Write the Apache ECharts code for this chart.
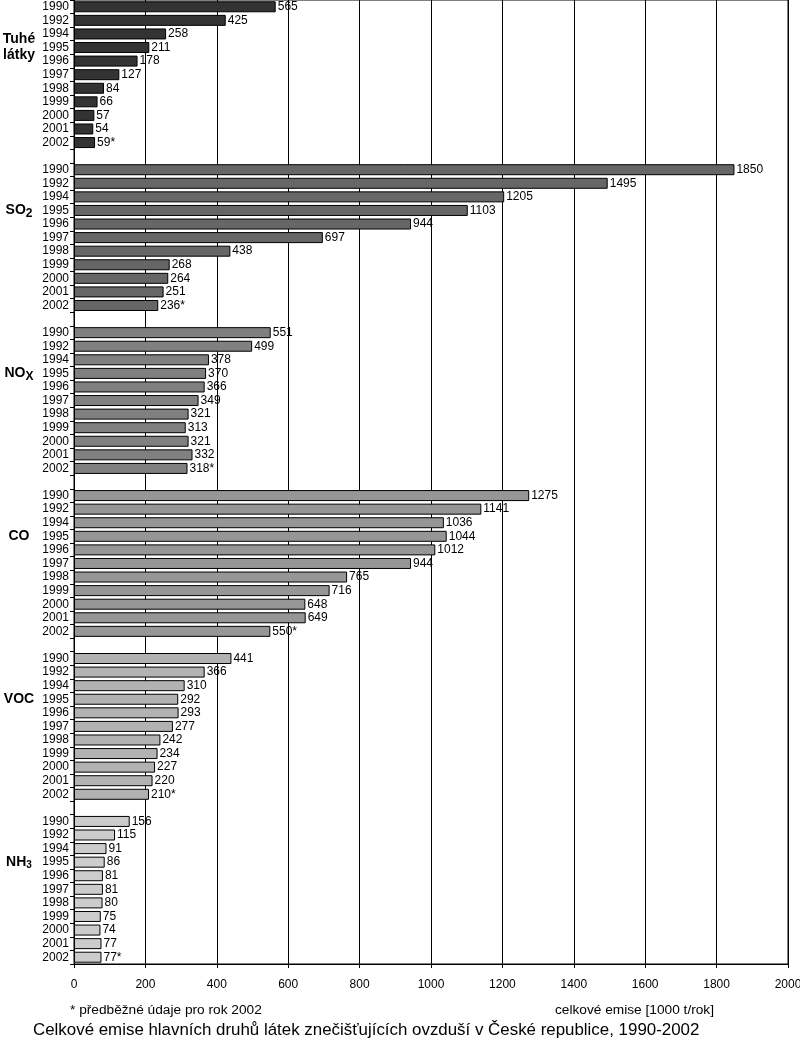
<!DOCTYPE html>
<html>
<head>
<meta charset="utf-8">
<script src="https://cdn.jsdelivr.net/npm/echarts@6/dist/echarts.min.js"></script>
<style>
    html, body { margin: 0; padding: 0; background: #fff; }
    #emise_chart { width: 800px; height: 1044px; }
</style>
</head>
<body>
<div id="emise_chart"></div>
<script>
// Data
// ------------------------------

var years = ['1990', '1992', '1994', '1995', '1996', '1997', '1998', '1999', '2000', '2001', '2002'];
var groupNames = ['{b|Tuhé}\n{b|látky}', '{b|SO}{s|2}', '{b|NO}{s|X}', '{b|CO}', '{b|VOC}', '{b|NH}{t|3}'];
var groupColors = ['#333333', '#666666', '#808080', '#969696', '#b2b2b2', '#cccccc'];

var tuheLatky = [565, 425, 258, 211, 178, 127, 84, 66, 57, 54, 59];
var so2 = [1850, 1495, 1205, 1103, 944, 697, 438, 268, 264, 251, 236];
var nox = [551, 499, 378, 370, 366, 349, 321, 313, 321, 332, 318];
var co = [1275, 1141, 1036, 1044, 1012, 944, 765, 716, 648, 649, 550];
var voc = [441, 366, 310, 292, 293, 277, 242, 234, 227, 220, 210];
var nh3 = [156, 115, 91, 86, 81, 81, 80, 75, 74, 77, 77];

var groups = [tuheLatky, so2, nox, co, voc, nh3];

var xTicks = [0, 200, 400, 600, 800, 1000, 1200, 1400, 1600, 1800, 2000];


// Build category rows (one empty row between groups)
// ------------------------------

var rows = [];
var groupLabels = [];
groups.forEach(function(g, gi) {
    if (gi > 0) {
        rows.push('');
        groupLabels.push('');
    }
    years.forEach(function(y, yi) {
        rows.push(y);
        groupLabels.push(yi === 3 ? groupNames[gi] : '');
    });
});

var series = groups.map(function(g, gi) {
    var start = gi * (years.length + 1);
    var data = rows.map(function() { return '-'; });
    g.forEach(function(v, i) { data[start + i] = v; });
    return {
        type: 'bar',
        yAxisIndex: 0,
        data: data,
        barWidth: 11,
        barGap: '-100%',
        animation: false,
        itemStyle: {
            color: groupColors[gi],
            borderColor: '#000',
            borderWidth: 1
        },
        label: {
            show: true,
            position: 'right',
            distance: 2,
            color: '#000',
            fontSize: 12,
            fontFamily: 'Liberation Sans, Arial, sans-serif',
            formatter: function(p) {
                return rows[p.dataIndex] === '2002' ? p.value + '*' : String(p.value);
            }
        }
    };
});


// Chart
// ------------------------------

var chart = echarts.init(document.getElementById('emise_chart'));

chart.setOption({
    animation: false,
    textStyle: {
        fontFamily: 'Liberation Sans, Arial, sans-serif'
    },
    grid: {
        left: 74,
        right: 12,
        top: 0,
        bottom: 80,
        show: true,
        borderColor: '#000',
        borderWidth: 1,
        containLabel: false,
        outerBoundsMode: 'none'
    },
    xAxis: {
        type: 'value',
        min: xTicks[0],
        max: xTicks[xTicks.length - 1],
        interval: 200,
        axisLine: { show: true, lineStyle: { color: '#000', width: 1 } },
        axisTick: { show: true, length: 4, lineStyle: { color: '#000' } },
        splitLine: { show: true, lineStyle: { color: '#000', width: 1 } },
        axisLabel: {
            color: '#000',
            fontSize: 12,
            margin: 15,
            formatter: function(v) { return String(v); }
        }
    },
    yAxis: [{
        type: 'category',
        inverse: true,
        data: rows,
        axisLine: { show: true, lineStyle: { color: '#000', width: 1 } },
        axisTick: { show: true, length: 4, interval: 0, lineStyle: { color: '#000' } },
        axisLabel: { color: '#000', fontSize: 12, margin: 5, interval: 0 }
    }, {
        type: 'category',
        inverse: true,
        position: 'left',
        data: groupLabels,
        axisLine: { show: false },
        axisTick: { show: false },
        axisLabel: {
            interval: 0,
            margin: 55,
            align: 'center',
            rich: {
                b: { fontSize: 14, fontWeight: 'bold', color: '#000', lineHeight: 16 },
                s: { fontSize: 12, fontWeight: 'bold', color: '#000', verticalAlign: 'bottom', padding: [6, 0, 0, 0] },
                t: { fontSize: 10, fontWeight: 'bold', color: '#000', verticalAlign: 'bottom', padding: [5, 0, 0, 0] }
            }
        }
    }],
    series: series,
    graphic: [{
        type: 'text',
        left: 70,
        top: 1003,
        style: { text: '* předběžné údaje pro rok 2002', fontSize: 13.7, fill: '#000', fontFamily: 'Liberation Sans, Arial, sans-serif' }
    }, {
        type: 'text',
        left: 555,
        top: 1003,
        style: { text: 'celkové emise [1000 t/rok]', fontSize: 13.7, fill: '#000', fontFamily: 'Liberation Sans, Arial, sans-serif' }
    }, {
        type: 'text',
        left: 33,
        top: 1022,
        style: { text: 'Celkové emise hlavních druhů látek znečišťujících ovzduší v České republice, 1990-2002', fontSize: 16.9, fill: '#000', fontFamily: 'Liberation Sans, Arial, sans-serif' }
    }]
});
</script>
</body>
</html>
